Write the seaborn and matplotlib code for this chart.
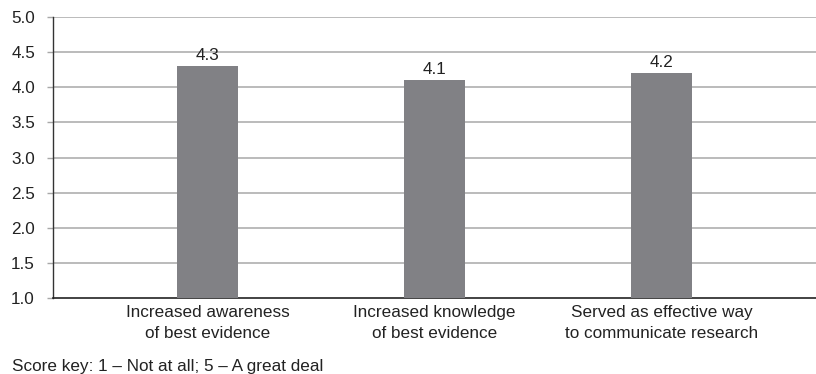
import matplotlib
matplotlib.use("Agg")
import matplotlib.pyplot as plt
import seaborn as sns
import pandas as pd

categories = [
    "Increased awareness\nof best evidence",
    "Increased knowledge\nof best evidence",
    "Served as effective way\nto communicate research",
]
scores = [4.3, 4.1, 4.2]
y_ticks = [1.0, 1.5, 2.0, 2.5, 3.0, 3.5, 4.0, 4.5, 5.0]

sns.set_theme(style="white")
plt.rcParams["font.family"] = ["Liberation Sans", "DejaVu Sans"]

FS = 12.3
TXT = "#222222"

df = pd.DataFrame({"category": categories, "score": scores})

fig = plt.figure(figsize=(8.16, 3.74), dpi=100)
ax = fig.add_axes([53 / 816, 1 - 298 / 374, 1 - 53 / 816, (298 - 17) / 374])

sns.barplot(data=df, x="category", y="score", color="#818185",
            saturation=1, width=0.27, linewidth=0, ax=ax, zorder=3)

ax.set_ylim(1.0, 5.0)
ax.set_xlim(-0.68, 2.68)
ax.set_yticks(y_ticks)
ax.set_yticklabels([f"{t:.1f}" for t in y_ticks], fontsize=FS, color=TXT)
ax.tick_params(axis="x", length=0, pad=5)
for lbl in ax.get_xticklabels():
    lbl.set_fontsize(FS)
    lbl.set_color(TXT)
    lbl.set_linespacing(1.5)
ax.tick_params(axis="y", length=4.5, width=1, color="#a8a8a8", left=True, pad=8.5)
ax.set_xlabel("")
ax.set_ylabel("")

for t in y_ticks[1:]:
    ax.axhline(t, color="#a8a8a8", lw=1.1, zorder=1)

for s in ["top", "right"]:
    ax.spines[s].set_visible(False)
ax.spines["left"].set_color("#333333")
ax.spines["left"].set_linewidth(1.0)
ax.spines["bottom"].set_color("#222222")
ax.spines["bottom"].set_linewidth(1.2)

for i, v in enumerate(scores):
    ax.text(i, v + 0.04, f"{v:.1f}", ha="center", va="bottom",
            fontsize=FS, color=TXT)

fig.text(12 / 816, 1 - 366 / 374, "Score key: 1 \u2013 Not at all; 5 \u2013 A great deal",
         ha="left", va="center", fontsize=FS, color=TXT)

fig.savefig("out.png", dpi=100)
